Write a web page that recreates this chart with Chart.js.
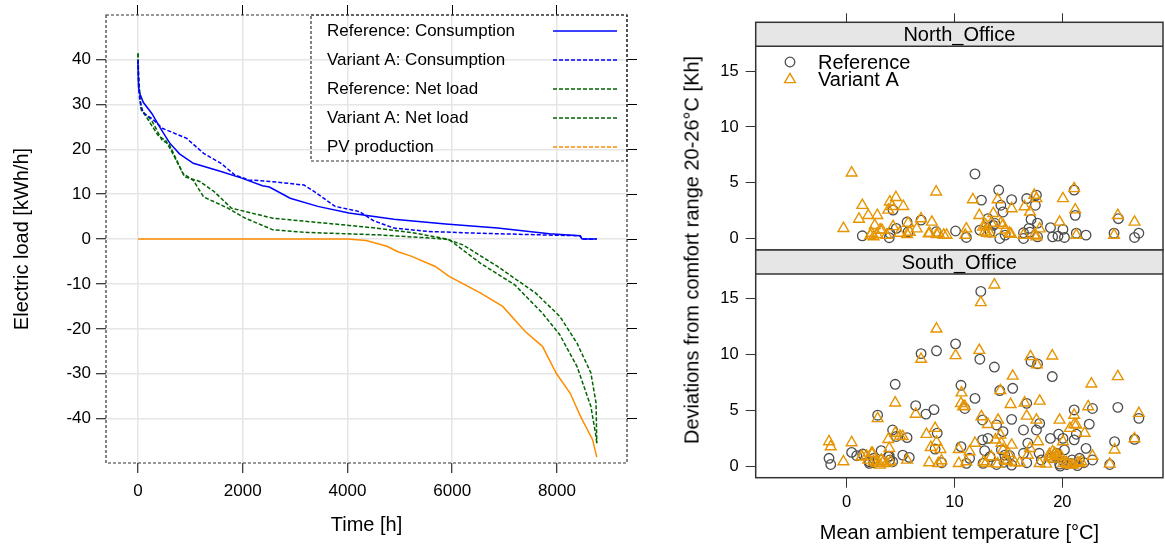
<!DOCTYPE html>
<html>
<head>
<meta charset="utf-8">
<script src="https://cdn.jsdelivr.net/npm/chart.js@4.4.1/dist/chart.umd.min.js"></script>
<style>
  body { margin: 0; background: #fff; width: 1165px; height: 545px; overflow: hidden; position: relative;
         font-family: 'Liberation Sans', Arial, sans-serif; }
  canvas { position: absolute; }
  #ylabRight { position: absolute; left: 692px; top: 250px; transform: translate(-50%, -50%) rotate(-90deg);
               font-size: 20px; white-space: nowrap; color: #000; }
</style>
</head>
<body>
<canvas id="loadChart" width="640" height="545" style="left:0;top:0"></canvas>
<canvas id="northChart" width="525" height="252" style="left:640px;top:0"></canvas>
<canvas id="southChart" width="525" height="297" style="left:640px;top:248px"></canvas>
<div id="ylabRight">Deviations from comfort range 20-26°C [Kh]</div>
<script>
// Load duration curves (hours sorted by load)
const refConsHours = [0, 10, 33, 100, 264, 430, 600, 792, 1056, 1585, 1981, 2377, 2509, 2905, 3433, 4027, 4885, 5875, 6865, 7855, 8440, 8480, 8760];
const refConsLoad  = [39.5, 34, 32.5, 30.5, 28, 24.7, 21.5, 19, 16.9, 15.06, 13.6, 11.9, 11.6, 9.1, 7.3, 5.8, 4.45, 3.35, 2.45, 1.2, 0.75, 0.05, 0];

const varConsHours = [0, 10, 33, 99, 264, 462, 924, 1254, 1585, 1849, 2113, 2575, 3168, 3367, 3763, 4225, 4489, 4885, 5545, 6535, 7855, 8440, 8480, 8760];
const varConsLoad  = [40, 35, 31, 28.1, 26.9, 24.7, 22.5, 19.1, 16.9, 14.3, 13.2, 12.8, 12.05, 10.6, 7.3, 6.15, 4.15, 2.45, 1.7, 1.3, 0.9, 0.75, 0.05, 0];

const refNetHours = [0, 13, 53, 132, 396, 528, 693, 891, 1188, 1453, 1783, 2047, 2575, 3234, 3895, 4554, 5215, 5875, 6204, 6865, 7590, 8053, 8383, 8647, 8746, 8760];
const refNetLoad  = [41.4, 36.2, 29.2, 27.7, 22.9, 22, 18.4, 13.9, 12.8, 10.6, 6.9, 6.15, 4.67, 3.93, 3.2, 2.45, 1.48, 0.07, -1.27, -6.1, -12, -17.2, -23.2, -29.8, -36.5, -45.5];

const varNetHours = [0, 13, 66, 264, 462, 594, 858, 1056, 1254, 1717, 2047, 2575, 3234, 4554, 5610, 5941, 6535, 7195, 7722, 8053, 8383, 8647, 8746, 8760];
const varNetLoad  = [41.4, 33.9, 28.7, 26.4, 22, 21.2, 14.6, 13.1, 9.4, 6.9, 4.67, 2.07, 1.48, 0.96, 0.22, -0.1, -5.35, -10.2, -16.5, -21.3, -28.4, -37.3, -44, -45.5];

const pvHours = [0, 4000, 4357, 4753, 4951, 5215, 5677, 5941, 6535, 6964, 7393, 7722, 7986, 8250, 8449, 8680, 8760];
const pvLoad  = [0, 0, -0.3, -1.6, -2.75, -3.8, -6.1, -8.3, -12, -15, -20.6, -23.9, -29.9, -34.3, -39.5, -44.7, -48.6];

const seriesNames = ['Reference: Consumption', 'Variant A: Consumption', 'Reference: Net load', 'Variant A: Net load', 'PV production'];
const hourTicks = [0, 2000, 4000, 6000, 8000];
const loadTicks = [-40, -30, -20, -10, 0, 10, 20, 30, 40];

// Comfort deviations vs. mean ambient temperature
const panelNames = ['North_Office', 'South_Office'];
const groupNames = ['Reference', 'Variant A'];
const tempTicks = [0, 10, 20];
const devTicks = [0, 5, 10, 15];

const northRefTemp = [1.45, 3.95, 4.0, 4.3, 4.6, 5.6, 5.7, 6.9, 8.3, 10.1, 11.1, 11.9, 12.35, 12.5, 13.1, 13.3, 13.6, 13.76, 14.1, 14.2, 14.3, 14.5, 14.7, 15.3, 16.4, 16.4, 16.7, 16.9, 17.0, 17.1, 17.5, 17.6, 17.7, 17.7, 18.9, 19.1, 19.6, 20.06, 20.2, 21.1, 21.2, 21.3, 22.2, 24.8, 25.2, 26.7, 27.1];
const northRefDev  = [0.27, 0.1, 0.5, 2.57, 0.93, 1.5, 0.63, 1.67, 0.63, 0.7, 0.12, 5.8, 0.78, 3.46, 1.8, 0.6, 1.2, 1.37, 4.36, 0.03, 3.0, 2.4, 0.33, 3.5, 0.03, 0.54, 3.6, 0.93, 0.6, 1.73, 3.0, 3.9, 1.4, 0.18, 1.0, 0.18, 0.24, 0.84, 0.12, 4.36, 2.1, 0.5, 0.33, 0.5, 1.8, 0.12, 0.5];

const northVarTemp = [0.46, -0.3, 1.45, 1.14, 2.0, 2.84, 2.3, 2.6, 3.1, 3.86, 4.2, 4.57, 5.25, 4.3, 4.9, 5.7, 5.86, 6.5, 6.9, 7.9, 8.3, 7.7, 8.5, 9.0, 9.26, 3.7, 2.5, 11.0, 11.1, 11.7, 12.3, 12.65, 13.0, 13.6, 14.0, 14.3, 14.7, 15.3, 15.1, 16.5, 17.0, 17.4, 17.6, 17.9, 17.4, 19.75, 20.06, 21.1, 21.2, 21.3, 25.15, 24.8, 26.7, 16.4, 13.4, 12.9, 13.3, 14.5, 15.24, 12.8, 17.6, 4.0, 2.8, 3.27, 7.6, 8.35, 5.6, 2.2];
const northVarDev  = [5.9, 0.93, 3.0, 1.76, 2.1, 2.1, 0.5, 1.2, 0.8, 2.57, 2.9, 3.7, 2.9, 1.1, 0.5, 1.4, 0.6, 0.9, 1.8, 1.5, 4.2, 0.5, 0.5, 0.33, 0.33, 0.33, 0.2, 0.33, 0.9, 3.5, 2.1, 1.07, 0.5, 2.27, 3.5, 1.4, 0.8, 2.7, 0.5, 2.87, 2.4, 3.9, 3.6, 0.9, 0.33, 1.5, 3.6, 4.5, 2.6, 0.33, 2.1, 0.33, 1.5, 0.33, 1.4, 1.22, 0.45, 1.22, 0.42, 0.63, 0.18, 3.3, 0.4, 0.78, 0.45, 0.4, 0.4, 0.3];

const southRefTemp = [-1.64, -1.48, 0.46, 0.93, 1.48, 2.1, 2.1, 2.5, 2.5, 2.87, 3.2, 3.86, 3.95, 4.0, 4.26, 4.26, 4.5, 4.6, 5.2, 5.6, 5.8, 6.4, 6.9, 7.35, 8.1, 8.33, 8.4, 8.2, 8.8, 10.1, 10.6, 10.6, 10.96, 11.1, 11.4, 11.9, 12.35, 12.44, 12.6, 12.6, 12.8, 12.65, 13.1, 13.3, 13.7, 13.9, 13.9, 14.2, 14.35, 14.5, 14.6, 14.66, 14.8, 15.1, 15.3, 15.4, 15.3, 16.4, 16.4, 16.7, 16.8, 16.7, 17.1, 17.7, 17.6, 17.9, 17.85, 18.05, 18.9, 19.0, 19.07, 19.4, 19.5, 19.66, 19.75, 19.8, 20.06, 20.1, 20.2, 20.4, 20.8, 20.9, 21.1, 21.1, 21.3, 21.4, 21.6, 22.0, 22.2, 22.5, 22.8, 22.8, 24.4, 24.85, 25.15, 26.7, 27.1];
const southRefDev  = [0.75, 0.2, 1.28, 0.98, 1.13, 0.45, 0.3, 0.36, 0.75, 4.6, 1.43, 0.9, 0.95, 0.6, 3.28, 0.45, 7.36, 2.7, 1.04, 2.6, 0.83, 5.45, 10.1, 4.7, 5.1, 10.35, 3.0, 1.58, 0.36, 10.97, 7.27, 1.79, 5.2, 0.3, 0.75, 6.1, 9.6, 15.65, 4.17, 2.4, 1.43, 0.3, 2.53, 0.9, 8.9, 3.73, 0.2, 6.8, 1.5, 3.13, 0.4, 1.04, 0.6, 1.0, 4.23, 7.0, 0.15, 3.28, 1.2, 5.66, 2.1, 0.36, 9.4, 9.18, 3.28, 3.87, 1.2, 0.6, 2.53, 0.8, 8.05, 0.9, 1.2, 2.9, 0.24, 0.05, 2.53, 0.5, 1.5, 0.2, 0.3, 0.6, 5.07, 2.4, 2.9, 0.1, 0.75, 0.36, 1.64, 3.8, 5.2, 0.6, 0.2, 2.24, 5.3, 2.44, 4.32];

const southVarTemp = [-1.64, -1.48, -0.3, 0.46, 1.39, 1.4, 1.85, 2.0, 2.3, 2.4, 2.5, 2.78, 2.87, 3.1, 3.2, 3.4, 3.7, 3.86, 3.95, 4.07, 4.5, 4.5, 4.94, 5.2, 5.6, 6.4, 6.9, 7.4, 7.8, 7.65, 8.2, 8.33, 8.33, 8.5, 8.7, 8.8, 10.1, 10.4, 10.4, 10.65, 10.6, 10.8, 10.96, 11.1, 11.4, 11.9, 12.3, 12.44, 12.5, 12.7, 12.9, 13.1, 13.4, 13.7, 13.8, 14.0, 14.04, 14.26, 14.26, 14.35, 14.5, 14.66, 14.9, 14.97, 15.2, 15.3, 15.4, 15.6, 16.05, 16.5, 16.7, 16.8, 17.05, 17.0, 17.6, 17.65, 17.75, 17.9, 17.9, 18.5, 18.8, 18.8, 19.07, 19.1, 19.2, 19.3, 19.5, 19.6, 19.75, 19.9, 20.06, 20.1, 20.4, 20.5, 20.7, 20.8, 21.0, 21.1, 21.1, 21.3, 21.45, 21.6, 21.76, 22.07, 22.4, 22.7, 22.8, 24.4, 24.85, 25.15, 26.7, 27.1];
const southVarDev  = [2.24, 1.79, 0.45, 2.15, 0.9, 0.9, 0.95, 0.6, 1.2, 1.2, 0.45, 0.3, 4.3, 0.15, 0.6, 0.45, 0.3, 2.44, 1.64, 0.45, 5.7, 3.0, 2.74, 2.7, 0.6, 4.7, 9.6, 2.9, 1.73, 0.36, 3.43, 12.3, 2.2, 0.3, 1.55, 0.54, 9.93, 1.55, 0.3, 6.6, 5.66, 5.37, 5.4, 0.45, 1.34, 2.1, 10.4, 14.66, 4.47, 0.45, 0.3, 3.78, 0.9, 16.24, 2.4, 0.25, 4.17, 6.8, 2.83, 2.1, 1.5, 0.6, 0.5, 1.2, 5.57, 1.94, 8.1, 0.36, 0.36, 5.7, 4.53, 1.04, 9.84, 1.64, 4.17, 9.1, 2.24, 5.87, 0.3, 0.24, 0.9, 1.1, 9.9, 1.34, 0.7, 1.2, 1.0, 1.04, 4.17, 0.9, 2.24, 0.3, 0.36, 0.2, 3.43, 0.15, 0.15, 4.6, 3.78, 3.73, 0.36, 0.3, 0.45, 3.0, 5.37, 7.4, 0.95, 0.24, 1.5, 8.05, 2.5, 4.77];

const FONT = "'Liberation Sans', Arial, sans-serif";
const toXY = (xs, ys) => xs.map((x, i) => ({ x: x, y: ys[i] }));
const plainNumber = v => String(v);

// force axis box sizes so the plot areas land where they should
function fixSize(prop, v) {
    return function(scale) {
        scale[prop] = v;
        scale.paddingLeft = scale.paddingRight = scale.paddingTop = scale.paddingBottom = 0;
    };
}
// use our own tick values
function useTicks(values) {
    return function(scale) {
        scale.ticks = values.map(v => ({ value: v }));
    };
}

// Dashed frame and legend for the load chart: text left, line sample right
const lineLegend = {
    id: 'lineLegend',
    afterDatasetsDraw(chart) {
        const ctx = chart.ctx, a = chart.chartArea;
        ctx.save();
        ctx.strokeStyle = '#333';
        ctx.lineWidth = 1.2;
        ctx.setLineDash([3, 2]);
        ctx.strokeRect(a.left, a.top, a.right - a.left, a.bottom - a.top);
        ctx.strokeRect(311, a.top, a.right - 311, 161 - a.top);
        ctx.font = '17px ' + FONT;
        ctx.fillStyle = '#000';
        ctx.textBaseline = 'middle';
        chart.data.datasets.forEach(function(ds, i) {
            const y = 31 + i * 29;
            ctx.fillText(ds.label, 327, y);
            ctx.strokeStyle = ds.borderColor;
            ctx.lineWidth = 1.5;
            ctx.setLineDash(ds.legendDash);
            ctx.beginPath();
            ctx.moveTo(553, y);
            ctx.lineTo(617, y);
            ctx.stroke();
        });
        ctx.restore();
    }
};

const loadChart = new Chart(document.getElementById('loadChart').getContext('2d'), {
    type: 'line',
    data: {
        datasets: [{
            label: seriesNames[0],
            data: toXY(refConsHours, refConsLoad),
            borderColor: '#0000ff',
            borderWidth: 1.5,
            legendDash: []
        }, {
            label: seriesNames[1],
            data: toXY(varConsHours, varConsLoad),
            borderColor: '#0000ff',
            borderWidth: 1.5,
            borderDash: [4, 2],
            legendDash: [4, 2]
        }, {
            label: seriesNames[2],
            data: toXY(refNetHours, refNetLoad),
            borderColor: '#006400',
            borderWidth: 1.5,
            borderDash: [4, 2],
            legendDash: [4, 2]
        }, {
            label: seriesNames[3],
            data: toXY(varNetHours, varNetLoad),
            borderColor: '#006400',
            borderWidth: 1.5,
            borderDash: [4, 2],
            legendDash: [4, 2]
        }, {
            label: seriesNames[4],
            data: toXY(pvHours, pvLoad),
            borderColor: '#ff8c00',
            borderWidth: 1.5,
            legendDash: [4, 2]
        }]
    },
    options: {
        responsive: false,
        animation: false,
        events: [],
        layout: { autoPadding: false, padding: 0 },
        elements: { point: { radius: 0 }, line: { tension: 0 } },
        plugins: { legend: { display: false }, tooltip: { enabled: false } },
        scales: {
            x: {
                type: 'linear', position: 'bottom', min: -611, max: 9337,
                afterBuildTicks: useTicks(hourTicks),
                ticks: { color: '#000', font: { family: FONT, size: 17 }, padding: 8, callback: plainNumber },
                grid: { color: '#e6e6e6', lineWidth: 1.5, tickLength: 10, tickColor: '#000', tickWidth: 1 },
                border: { display: false },
                title: { display: true, text: 'Time [h]', color: '#000', font: { family: FONT, size: 20 }, padding: { top: 0, bottom: 8 } },
                afterFit: fixSize('height', 82)
            },
            x2: {
                type: 'linear', position: 'top', min: -611, max: 9337,
                afterBuildTicks: useTicks(hourTicks),
                ticks: { display: false },
                grid: { drawOnChartArea: false, tickLength: 10, tickColor: '#000', tickWidth: 1 },
                border: { display: false },
                afterFit: fixSize('height', 15)
            },
            y: {
                type: 'linear', position: 'left', min: -49.9, max: 49.95,
                afterBuildTicks: useTicks(loadTicks),
                ticks: { color: '#000', font: { family: FONT, size: 17 }, padding: 5, callback: plainNumber },
                grid: { color: '#e6e6e6', lineWidth: 1.5, tickLength: 10, tickColor: '#000', tickWidth: 1 },
                border: { display: false },
                title: { display: true, text: 'Electric load [kWh/h]', color: '#000', font: { family: FONT, size: 20 }, padding: { top: 10, bottom: 0 } },
                afterFit: fixSize('width', 106)
            },
            y2: {
                type: 'linear', position: 'right', min: -49.9, max: 49.95,
                afterBuildTicks: useTicks(loadTicks),
                ticks: { display: false },
                grid: { drawOnChartArea: false, tickLength: 10, tickColor: '#000', tickWidth: 1 },
                border: { display: false },
                afterFit: fixSize('width', 13)
            }
        }
    },
    plugins: [lineLegend]
});

// Lattice-style panel: frame, grey strip with its name, optional key
const panelFrame = {
    id: 'panelFrame',
    afterDraw(chart, args, opts) {
        const ctx = chart.ctx, a = chart.chartArea;
        const stripH = 24;
        ctx.save();
        ctx.fillStyle = '#e6e6e6';
        ctx.fillRect(a.left, a.top, a.right - a.left, stripH);
        ctx.strokeStyle = '#333';
        ctx.lineWidth = 1.5;
        ctx.beginPath();
        ctx.moveTo(a.left, a.top + stripH);
        ctx.lineTo(a.right, a.top + stripH);
        ctx.stroke();
        ctx.strokeRect(a.left, a.top, a.right - a.left, a.bottom - a.top);
        ctx.fillStyle = '#000';
        ctx.font = '20px ' + FONT;
        ctx.textAlign = 'center';
        ctx.textBaseline = 'middle';
        ctx.fillText(opts.text, (a.left + a.right) / 2, a.top + stripH / 2 + 1);
        if (opts.key) {
            ctx.textAlign = 'left';
            chart.data.datasets.forEach(function(ds, i) {
                const x = 150, y = 62 + i * 17.5;
                ctx.strokeStyle = ds.borderColor;
                ctx.lineWidth = ds.borderWidth;
                ctx.beginPath();
                if (ds.pointStyle === 'triangle') {
                    const r = ds.pointRadius;
                    ctx.moveTo(x, y - r);
                    ctx.lineTo(x + r * Math.sin(2 * Math.PI / 3), y - r * Math.cos(2 * Math.PI / 3));
                    ctx.lineTo(x + r * Math.sin(4 * Math.PI / 3), y - r * Math.cos(4 * Math.PI / 3));
                    ctx.closePath();
                } else {
                    ctx.arc(x, y, ds.pointRadius, 0, 2 * Math.PI);
                }
                ctx.stroke();
                ctx.fillStyle = '#000';
                ctx.fillText(ds.label, 178, y + 1);
            });
        }
        ctx.restore();
    }
};

function scatterSets(refT, refD, varT, varD) {
    return [{
        label: groupNames[0],
        data: toXY(refT, refD),
        pointStyle: 'circle',
        pointRadius: 4.8,
        borderColor: '#4d4d4d',
        backgroundColor: 'rgba(0,0,0,0)',
        borderWidth: 1.3,
        order: 1
    }, {
        label: groupNames[1],
        data: toXY(varT, varD),
        pointStyle: 'triangle',
        pointRadius: 6.2,
        borderColor: '#e69500',
        backgroundColor: 'rgba(0,0,0,0)',
        borderWidth: 1.4,
        order: 0
    }];
}

const tickFont = { family: FONT, size: 16.5 };
const noGrid = { drawOnChartArea: false, tickLength: 10, tickColor: '#333', tickWidth: 1 };

const northChart = new Chart(document.getElementById('northChart').getContext('2d'), {
    type: 'scatter',
    data: { datasets: scatterSets(northRefTemp, northRefDev, northVarTemp, northVarDev) },
    options: {
        responsive: false,
        animation: false,
        events: [],
        layout: { autoPadding: false, padding: { left: 0, right: 2, top: 0, bottom: 2 } },
        plugins: { legend: { display: false }, tooltip: { enabled: false }, panelFrame: { text: panelNames[0], key: true } },
        scales: {
            x: { type: 'linear', display: false, min: -8.44, max: 29.34 },
            x2: {
                type: 'linear', position: 'top', min: -8.44, max: 29.34,
                afterBuildTicks: useTicks(tempTicks),
                ticks: { display: false },
                grid: Object.assign({}, noGrid, { tickLength: 9 }),
                border: { display: false },
                afterFit: fixSize('height', 22.3)
            },
            y: {
                type: 'linear', position: 'left', min: -1.0, max: 19.36,
                afterBuildTicks: useTicks(devTicks),
                ticks: { color: '#000', font: tickFont, padding: 7, callback: plainNumber },
                grid: noGrid,
                border: { display: false },
                afterFit: fixSize('width', 115.7)
            }
        }
    },
    plugins: [panelFrame]
});

const southChart = new Chart(document.getElementById('southChart').getContext('2d'), {
    type: 'scatter',
    data: { datasets: scatterSets(southRefTemp, southRefDev, southVarTemp, southVarDev) },
    options: {
        responsive: false,
        animation: false,
        events: [],
        layout: { autoPadding: false, padding: { left: 0, right: 2, top: 2, bottom: 0 } },
        plugins: { legend: { display: false }, tooltip: { enabled: false }, panelFrame: { text: panelNames[1], key: false } },
        scales: {
            x: {
                type: 'linear', position: 'bottom', min: -8.44, max: 29.34,
                afterBuildTicks: useTicks(tempTicks),
                ticks: { color: '#000', font: tickFont, padding: 5, callback: plainNumber },
                grid: noGrid,
                border: { display: false },
                title: { display: true, text: 'Mean ambient temperature [°C]', color: '#000', font: { family: FONT, size: 20 }, padding: { top: 0, bottom: 0 } },
                afterFit: fixSize('height', 67.3)
            },
            y: {
                type: 'linear', position: 'left', min: -0.98, max: 19.35,
                afterBuildTicks: useTicks(devTicks),
                ticks: { color: '#000', font: tickFont, padding: 7, callback: plainNumber },
                grid: noGrid,
                border: { display: false },
                afterFit: fixSize('width', 115.7)
            }
        }
    },
    plugins: [panelFrame]
});
</script>
</body>
</html>
